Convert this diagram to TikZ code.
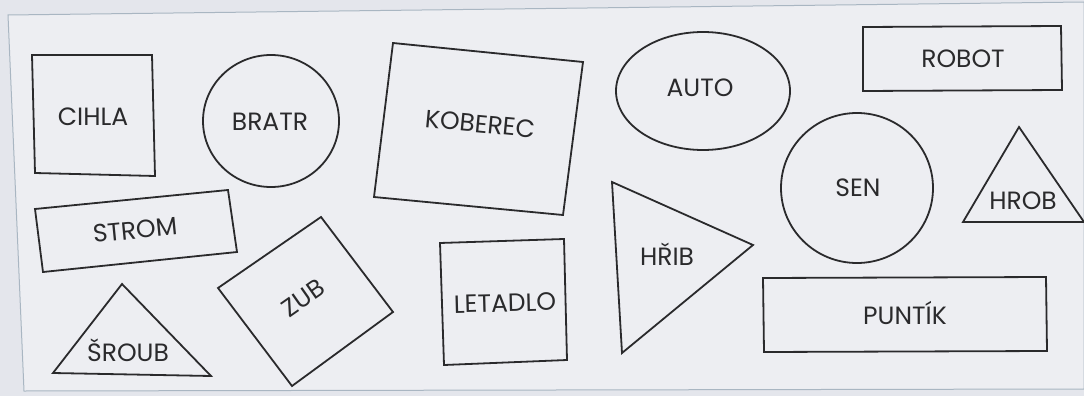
\documentclass[tikz,border=0pt]{standalone}
\usepackage{fontspec}
\setmainfont{Poppins}
\definecolor{ink}{HTML}{2A2A2C}
\definecolor{bgout}{HTML}{E4E6EC}
\definecolor{panel}{HTML}{EDEEF2}
\definecolor{panelline}{HTML}{A9B6C2}
\begin{document}
\begin{tikzpicture}[x=1pt,y=-1pt,
  shp/.style={draw=ink,line width=1.8pt,line join=miter},
  lbl/.style={text=ink,font=\fontsize{25}{27}\selectfont,inner sep=0pt}]
\useasboundingbox (0,0) rectangle (1084,396);
\fill[bgout] (0,0) rectangle (1084,396);
\draw[panelline,line width=1pt,fill=panel] (8,15) -- (1084,2) -- (1084,389) -- (24,391) -- cycle;
% CIHLA square
\draw[shp] (32,55) -- (152,55) -- (155,176) -- (35,173) -- cycle;
\node[lbl] (cihla) at (93,117) {CIHLA};
% BRATR circle
\draw[shp] (271,121) ellipse [x radius=68, y radius=66];
\node[lbl] (bratr) at (270,122) {BRATR};
% STROM
\draw[shp] (35,209) -- (228,190) -- (237,252) -- (43,272) -- cycle;
\node[lbl,rotate=5.6] (strom) at (135,230) {STROM};
% SROUB triangle
\draw[shp] (122,284) -- (211,376) -- (53,373) -- cycle;
\node[lbl] (sroub) at (128,350) {ŠROUB};
% ZUB
\draw[shp] (321,217) -- (393,312) -- (292,386) -- (218,288) -- cycle;
\node[lbl,rotate=35] (zub) at (303,298) {ZUB};
% KOBEREC
\draw[shp] (393,43) -- (583,62) -- (563,215) -- (374,197) -- cycle;
\node[lbl,rotate=-5.5] (koberec) at (480,124) {KOBEREC};
% LETADLO
\draw[shp] (440,243) -- (564,239) -- (567,360) -- (444,365) -- cycle;
\node[lbl,rotate=1.5] (letadlo) at (505,303) {LETADLO};
% AUTO ellipse
\draw[shp] (703,91) ellipse [x radius=87, y radius=59];
\node[lbl] (auto) at (700,88) {AUTO};
% HRIB triangle
\draw[shp] (612,182) -- (753,245) -- (622,353) -- cycle;
\node[lbl] (hrib) at (667,254) {HŘIB};
% ROBOT
\draw[shp] (863,27) -- (1061,26) -- (1062,90) -- (863,91) -- cycle;
\node[lbl] (robot) at (963,59) {ROBOT};
% SEN circle
\draw[shp] (857,188) ellipse [x radius=76, y radius=75];
\node[lbl] (sen) at (858,188) {SEN};
% HROB triangle
\draw[shp] (1019,127) -- (1084,222) -- (963,222) -- cycle;
\node[lbl] (hrob) at (1023,201) {HROB};
% PUNTIK
\draw[shp] (763,278) -- (1046,277) -- (1047,351) -- (764,352) -- cycle;
\node[lbl] (puntik) at (905,313) {PUNTÍK};
\end{tikzpicture}
\end{document}
